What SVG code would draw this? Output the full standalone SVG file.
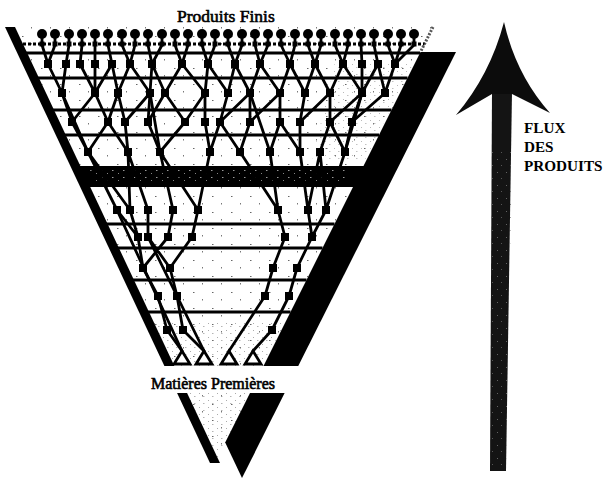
<svg xmlns="http://www.w3.org/2000/svg" width="604" height="482" viewBox="0 0 604 482">
<style>
.lvl{stroke:#000;stroke-width:3;fill:none}
.edge{stroke:#000;stroke-width:2.8;fill:none;stroke-linecap:round}
.c{fill:#000}
.tri{fill:#fff;stroke:#000;stroke-width:2.8;stroke-linejoin:miter}
.lab{font-family:"Liberation Serif","Times New Roman",serif;fill:#000}
</style>
<defs>
<rect id="sq" x="-4" y="-4" width="8" height="8"/>
<rect id="ss" x="-2.5" y="-2.5" width="5" height="5"/>
<pattern id="grain" width="19" height="16" patternUnits="userSpaceOnUse">
<rect x="3" y="4" width="1.5" height="1" fill="#666"/><rect x="12" y="11" width="1" height="1.5" fill="#777"/>
</pattern>
<pattern id="grain2" width="9" height="7" patternUnits="userSpaceOnUse">
<rect x="1" y="1" width="1" height="1" fill="#666"/><rect x="5" y="4" width="1.5" height="1" fill="#777"/>
</pattern>
<pattern id="wspeck" width="11" height="7" patternUnits="userSpaceOnUse">
<rect x="2" y="2" width="1.5" height="1" fill="#fff"/><rect x="8" y="5" width="1" height="1" fill="#ddd"/>
</pattern>
<pattern id="aspeck" width="9" height="13" patternUnits="userSpaceOnUse">
<rect x="2" y="3" width="1" height="1" fill="#777"/><rect x="6" y="9" width="1" height="1" fill="#666"/>
</pattern>
</defs>
<rect width="604" height="482" fill="#fff"/>

<!-- triangle interior grain -->
<polygon points="15,27 433,27 215,463" fill="url(#grain)"/>
<polygon points="150,320 287,320 215,463" fill="url(#grain2)" opacity="0.55"/>
<polygon points="335,62 414,62 365,160 312,160" fill="url(#grain2)" opacity="0.45"/>

<!-- shadow -->
<polygon points="420.5,52 456,52 242,478 225.2,442.5" fill="#000"/>
<line x1="433" y1="27" x2="420.5" y2="52" stroke="#555" stroke-width="3" stroke-dasharray="2 1.5"/>

<!-- level lines -->
<g id="levels">
<line class="lvl" x1="18" y1="44" x2="424.5" y2="44" stroke-width="1.8" stroke-dasharray="3 2"/>
<line class="lvl" x1="22" y1="53" x2="420" y2="53" stroke-width="4"/>
<line class="lvl" x1="34" y1="78" x2="407.5" y2="78"/>
<line class="lvl" x1="49" y1="110" x2="391.5" y2="110"/>
<line class="lvl" x1="61" y1="135" x2="379" y2="135"/>
<polygon points="75.7,166 370,166 360,187 85.7,187" fill="#000"/>
<polygon points="90,170 350,170 345,183 95,183" fill="url(#wspeck)" opacity="0.6"/>
<line class="lvl" x1="103" y1="224" x2="334.5" y2="224"/>
<line class="lvl" x1="114.5" y1="248" x2="322.5" y2="248"/>
<line class="lvl" x1="129.7" y1="280" x2="306.5" y2="280"/>
<line class="lvl" x1="144.8" y1="312" x2="290.5" y2="312"/>
</g>

<g id="connectors">
<path class="edge" d="M42 38V44M55 38V44M69 38V44M82 38V44M95 38V44M108 38V44M122 38V44M135 38V44M148 38V44M162 38V44M175 38V44M188 38V44M202 38V44M215 38V44M228 38V44M242 38V44M255 38V44M268 38V44M281 38V44M295 38V44M308 38V44M321 38V44M335 38V44M348 38V44M361 38V44M374 38V44M388 38V44M401 38V44M414 38V44"/>
<path class="edge" d="M42 45L48 64M55 45L48 64M69 45L66 64M82 45L80 64M95 45L95 64M108 45L112 64M122 45L130 64M135 45L130 64M148 45L152 64M162 45L152 64M175 45L182 64M188 45L182 64M202 45L208 64M215 45L208 64M228 45L235 64M242 45L235 64M255 45L260 64M268 45L260 64M281 45L290 64M295 45L290 64M308 45L315 64M321 45L315 64M335 45L343 64M348 45L343 64M361 45L362 64M374 45L378 64M388 45L395 64M401 45L395 64M414 45L395 64"/>
<path class="edge" d="M48 64L62 93M66 64L62 93M80 64L95 93M95 64L95 93M112 64L95 93M112 64L118 93M130 64L118 93M130 64L150 93M152 64L150 93M152 64L165 93M182 64L165 93M182 64L205 93M208 64L205 93M208 64L228 93M235 64L228 93M235 64L250 93M260 64L250 93M260 64L280 93M290 64L280 93M290 64L305 93M315 64L305 93M315 64L330 93M343 64L330 93M343 64L362 93M362 64L362 93M378 64L362 93M378 64L385 93M395 64L385 93"/>
<path class="edge" d="M62 93L72 122M95 93L72 122M95 93L108 122M118 93L108 122M118 93L125 122M150 93L125 122M150 93L148 122M165 93L148 122M165 93L185 122M205 93L185 122M205 93L205 122M228 93L220 122M250 93L220 122M250 93L250 122M280 93L250 122M280 93L280 122M305 93L300 122M330 93L300 122M330 93L330 122M362 93L330 122M362 93L352 122M385 93L352 122"/>
<path class="edge" d="M72 122L88 152M108 122L88 152M108 122L128 152M125 122L128 152M148 122L160 152M185 122L160 152M205 122L210 152M220 122L210 152M220 122L240 152M250 122L240 152M280 122L270 152M280 122L300 152M300 122L300 152M330 122L320 152M330 122L345 152M352 122L345 152"/>
<path class="edge" d="M88 152L117 210M88 152L130 210M128 152L130 210M128 152L148 210M160 152L173 210M160 152L198 210M210 152L198 210M240 152L278 210M270 152L278 210M300 152L308 210M320 152L308 210M320 152L326 210M345 152L326 210"/>
<path class="edge" d="M117 210L138 237M130 210L138 237M148 210L148 237M173 210L168 237M198 210L192 237M278 210L285 237M308 210L312 237M326 210L312 237"/>
<path class="edge" d="M138 237L143 268M168 237L143 268M148 237L170 268M192 237L170 268M285 237L273 268M312 237L297 268"/>
<path class="edge" d="M143 268L158 296M170 268L177 296M273 268L265 296M297 268L289 296"/>
<path class="edge" d="M158 296L167 330M177 296L183 330M289 296L272 330"/>
<path class="edge" d="M167 330L182 351M183 330L204 351M265 296L229 351M272 330L253 351"/>
<path class="edge" d="M182 351L117 210M204 351L148 237M88 152L62 93M160 152L150 93M270 152L250 93M345 152L362 93"/>
</g>

<!-- finished products -->
<g id="p01"><circle class="c" cx="42" cy="34" r="5"/></g>
<g id="p02"><circle class="c" cx="55" cy="34" r="5"/></g>
<g id="p03"><circle class="c" cx="69" cy="34" r="5"/></g>
<g id="p04"><circle class="c" cx="82" cy="34" r="5"/></g>
<g id="p05"><circle class="c" cx="95" cy="34" r="5"/></g>
<g id="p06"><circle class="c" cx="108" cy="34" r="5"/></g>
<g id="p07"><circle class="c" cx="122" cy="34" r="5"/></g>
<g id="p08"><circle class="c" cx="135" cy="34" r="5"/></g>
<g id="p09"><circle class="c" cx="148" cy="34" r="5"/></g>
<g id="p10"><circle class="c" cx="162" cy="34" r="5"/></g>
<g id="p11"><circle class="c" cx="175" cy="34" r="5"/></g>
<g id="p12"><circle class="c" cx="188" cy="34" r="5"/></g>
<g id="p13"><circle class="c" cx="202" cy="34" r="5"/></g>
<g id="p14"><circle class="c" cx="215" cy="34" r="5"/></g>
<g id="p15"><circle class="c" cx="228" cy="34" r="5"/></g>
<g id="p16"><circle class="c" cx="242" cy="34" r="5"/></g>
<g id="p17"><circle class="c" cx="255" cy="34" r="5"/></g>
<g id="p18"><circle class="c" cx="268" cy="34" r="5"/></g>
<g id="p19"><circle class="c" cx="281" cy="34" r="5"/></g>
<g id="p20"><circle class="c" cx="295" cy="34" r="5"/></g>
<g id="p21"><circle class="c" cx="308" cy="34" r="5"/></g>
<g id="p22"><circle class="c" cx="321" cy="34" r="5"/></g>
<g id="p23"><circle class="c" cx="335" cy="34" r="5"/></g>
<g id="p24"><circle class="c" cx="348" cy="34" r="5"/></g>
<g id="p25"><circle class="c" cx="361" cy="34" r="5"/></g>
<g id="p26"><circle class="c" cx="374" cy="34" r="5"/></g>
<g id="p27"><circle class="c" cx="388" cy="34" r="5"/></g>
<g id="p28"><circle class="c" cx="401" cy="34" r="5"/></g>
<g id="p29"><circle class="c" cx="414" cy="34" r="5"/></g>

<!-- level 1 -->
<g id="a01"><use href="#ss" x="42" y="44"/></g><g id="a02"><use href="#ss" x="55" y="44"/></g><g id="a03"><use href="#ss" x="69" y="44"/></g><g id="a04"><use href="#ss" x="82" y="44"/></g><g id="a05"><use href="#ss" x="95" y="44"/></g><g id="a06"><use href="#ss" x="108" y="44"/></g><g id="a07"><use href="#ss" x="122" y="44"/></g><g id="a08"><use href="#ss" x="135" y="44"/></g><g id="a09"><use href="#ss" x="148" y="44"/></g><g id="a10"><use href="#ss" x="162" y="44"/></g><g id="a11"><use href="#ss" x="175" y="44"/></g><g id="a12"><use href="#ss" x="188" y="44"/></g><g id="a13"><use href="#ss" x="202" y="44"/></g><g id="a14"><use href="#ss" x="215" y="44"/></g><g id="a15"><use href="#ss" x="228" y="44"/></g><g id="a16"><use href="#ss" x="242" y="44"/></g><g id="a17"><use href="#ss" x="255" y="44"/></g><g id="a18"><use href="#ss" x="268" y="44"/></g><g id="a19"><use href="#ss" x="281" y="44"/></g><g id="a20"><use href="#ss" x="295" y="44"/></g><g id="a21"><use href="#ss" x="308" y="44"/></g><g id="a22"><use href="#ss" x="321" y="44"/></g><g id="a23"><use href="#ss" x="335" y="44"/></g><g id="a24"><use href="#ss" x="348" y="44"/></g><g id="a25"><use href="#ss" x="361" y="44"/></g><g id="a26"><use href="#ss" x="374" y="44"/></g><g id="a27"><use href="#ss" x="388" y="44"/></g><g id="a28"><use href="#ss" x="401" y="44"/></g><g id="a29"><use href="#ss" x="414" y="44"/></g>

<!-- level 2 -->
<g id="b01"><use href="#sq" x="48" y="64"/></g><g id="b02"><use href="#sq" x="66" y="64"/></g><g id="b03"><use href="#sq" x="80" y="64"/></g><g id="b04"><use href="#sq" x="95" y="64"/></g><g id="b05"><use href="#sq" x="112" y="64"/></g><g id="b06"><use href="#sq" x="130" y="64"/></g><g id="b07"><use href="#sq" x="152" y="64"/></g><g id="b08"><use href="#sq" x="182" y="64"/></g><g id="b09"><use href="#sq" x="208" y="64"/></g><g id="b10"><use href="#sq" x="235" y="64"/></g><g id="b11"><use href="#sq" x="260" y="64"/></g><g id="b12"><use href="#sq" x="290" y="64"/></g><g id="b13"><use href="#sq" x="315" y="64"/></g><g id="b14"><use href="#sq" x="343" y="64"/></g><g id="b15"><use href="#sq" x="362" y="64"/></g><g id="b16"><use href="#sq" x="378" y="64"/></g><g id="b17"><use href="#sq" x="395" y="64"/></g>

<!-- level 3 -->
<g id="c01"><use href="#sq" x="62" y="93"/></g><g id="c02"><use href="#sq" x="95" y="93"/></g><g id="c03"><use href="#sq" x="118" y="93"/></g><g id="c04"><use href="#sq" x="150" y="93"/></g><g id="c05"><use href="#sq" x="165" y="93"/></g><g id="c06"><use href="#sq" x="205" y="93"/></g><g id="c07"><use href="#sq" x="228" y="93"/></g><g id="c08"><use href="#sq" x="250" y="93"/></g><g id="c09"><use href="#sq" x="280" y="93"/></g><g id="c10"><use href="#sq" x="305" y="93"/></g><g id="c11"><use href="#sq" x="330" y="93"/></g><g id="c12"><use href="#sq" x="362" y="93"/></g><g id="c13"><use href="#sq" x="385" y="93"/></g>

<!-- level 4 -->
<g id="d01"><use href="#sq" x="72" y="122"/></g><g id="d02"><use href="#sq" x="108" y="122"/></g><g id="d03"><use href="#sq" x="125" y="122"/></g><g id="d04"><use href="#sq" x="148" y="122"/></g><g id="d05"><use href="#sq" x="185" y="122"/></g><g id="d06"><use href="#sq" x="205" y="122"/></g><g id="d07"><use href="#sq" x="220" y="122"/></g><g id="d08"><use href="#sq" x="250" y="122"/></g><g id="d09"><use href="#sq" x="280" y="122"/></g><g id="d10"><use href="#sq" x="300" y="122"/></g><g id="d11"><use href="#sq" x="330" y="122"/></g><g id="d12"><use href="#sq" x="352" y="122"/></g>

<!-- level 5 -->
<g id="e01"><use href="#sq" x="88" y="152"/></g><g id="e02"><use href="#sq" x="128" y="152"/></g><g id="e03"><use href="#sq" x="160" y="152"/></g><g id="e04"><use href="#sq" x="210" y="152"/></g><g id="e05"><use href="#sq" x="240" y="152"/></g><g id="e06"><use href="#sq" x="270" y="152"/></g><g id="e07"><use href="#sq" x="300" y="152"/></g><g id="e08"><use href="#sq" x="320" y="152"/></g><g id="e09"><use href="#sq" x="345" y="152"/></g>

<!-- level 6 -->
<g id="f01"><use href="#sq" x="117" y="210"/></g><g id="f02"><use href="#sq" x="130" y="210"/></g><g id="f03"><use href="#sq" x="148" y="210"/></g><g id="f04"><use href="#sq" x="173" y="210"/></g><g id="f05"><use href="#sq" x="198" y="210"/></g><g id="f06"><use href="#sq" x="278" y="210"/></g><g id="f07"><use href="#sq" x="308" y="210"/></g><g id="f08"><use href="#sq" x="326" y="210"/></g>

<!-- level 7 -->
<g id="g01"><use href="#sq" x="138" y="237"/></g><g id="g02"><use href="#sq" x="148" y="237"/></g><g id="g03"><use href="#sq" x="168" y="237"/></g><g id="g04"><use href="#sq" x="192" y="237"/></g><g id="g05"><use href="#sq" x="285" y="237"/></g><g id="g06"><use href="#sq" x="312" y="237"/></g>

<!-- level 8 -->
<g id="h01"><use href="#sq" x="143" y="268"/></g><g id="h02"><use href="#sq" x="170" y="268"/></g><g id="h03"><use href="#sq" x="273" y="268"/></g><g id="h04"><use href="#sq" x="297" y="268"/></g>

<!-- level 9 -->
<g id="i01"><use href="#sq" x="158" y="296"/></g><g id="i02"><use href="#sq" x="177" y="296"/></g><g id="i03"><use href="#sq" x="265" y="296"/></g><g id="i04"><use href="#sq" x="289" y="296"/></g>

<!-- level 10 -->
<g id="j01"><use href="#sq" x="167" y="330"/></g><g id="j02"><use href="#sq" x="183" y="330"/></g><g id="j03"><use href="#sq" x="272" y="330"/></g>

<!-- raw materials -->
<g id="r1"><path class="tri" d="M182 351L190 364L174 364Z"/></g>
<g id="r2"><path class="tri" d="M204 351L212 364L196 364Z"/></g>
<g id="r3"><path class="tri" d="M229 351L237 364L221 364Z"/></g>
<g id="r4"><path class="tri" d="M253 351L261 364L245 364Z"/></g>

<!-- left edge of triangle -->
<polygon points="5,27 15,27 220,463 210,463" fill="#000"/>

<!-- label backgrounds -->
<rect x="140" y="366" width="162" height="27" fill="#fff"/>

<text class="lab" x="177" y="22" font-size="17.5" stroke="#000" stroke-width="0.6">Produits Finis</text>
<text class="lab" x="151" y="389" font-size="16" stroke="#000" stroke-width="0.6">Matières Premières</text>

<!-- flow arrow -->
<g id="arrow">
<polygon points="492,92 512,92 506,471 490,471" fill="#141414"/>
<polygon points="492,150 512,150 506,471 490,471" fill="url(#aspeck)" opacity="0.8"/>
<path d="M504 22Q516 75 550 113L512 94L492 94L456 115Q490 75 504 22Z" fill="#0c0c0c"/>
</g>
<text class="lab" font-size="15.2" font-weight="bold"><tspan x="524" y="133">FLUX</tspan><tspan x="524" y="152">DES</tspan><tspan x="524" y="171">PRODUITS</tspan></text>
</svg>
